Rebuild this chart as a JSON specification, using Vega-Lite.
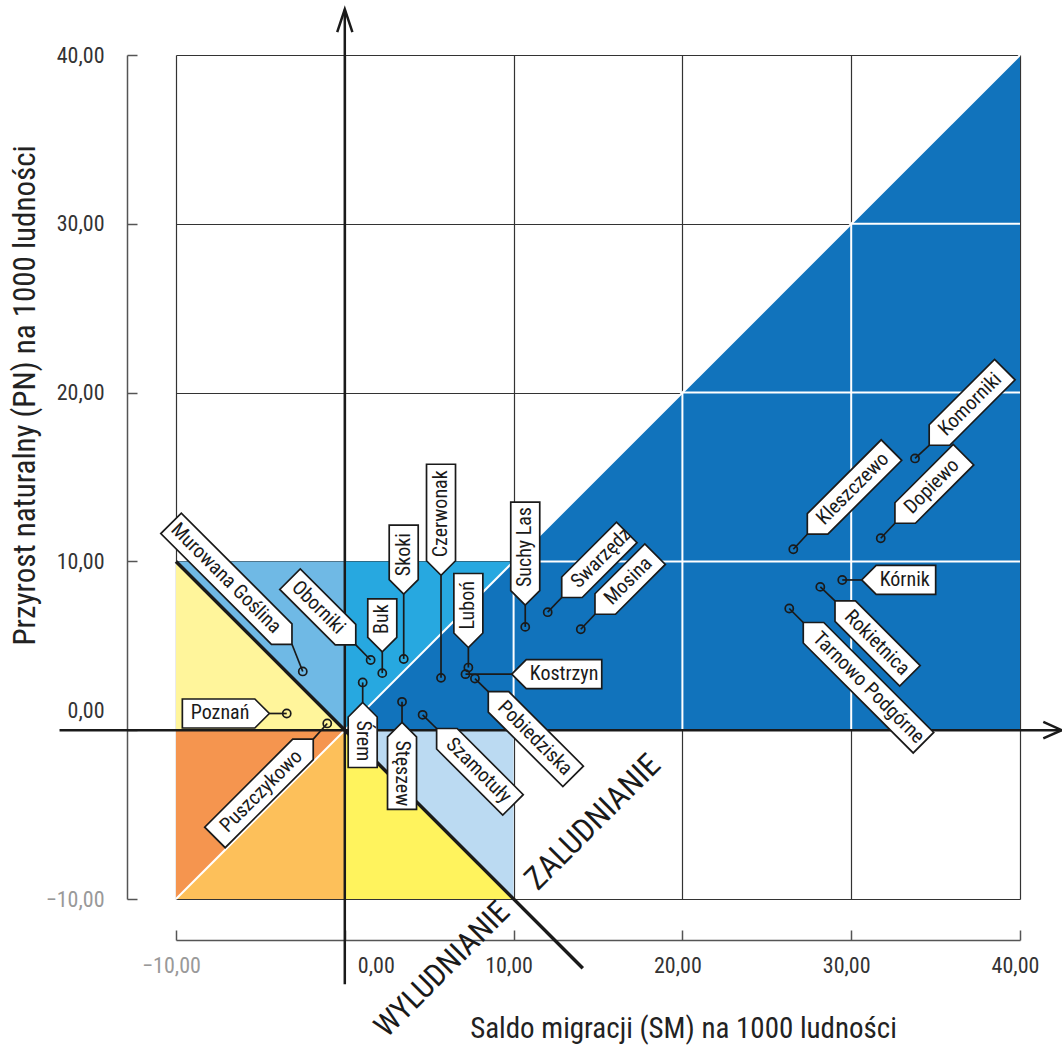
{
  "$schema": "https://vega.github.io/schema/vega-lite/v6.json",
  "width": 844,
  "height": 844,
  "autosize": "none",
  "padding": {"left": 176, "top": 55, "right": 42, "bottom": 149},
  "background": "white",
  "config": {
    "view": {"stroke": null},
    "font": "Roboto Condensed, Liberation Sans Narrow, DejaVu Sans Condensed, Roboto, sans-serif",
    "axis": {
      "labelFont": "Roboto Condensed, Liberation Sans Narrow, DejaVu Sans Condensed, Roboto, sans-serif",
      "titleFont": "Roboto Condensed, Liberation Sans Narrow, DejaVu Sans Condensed, Roboto, sans-serif",
      "labelFontSize": 22,
      "titleFontWeight": "normal",
      "titleColor": "#222",
      "gridColor": "#333",
      "gridWidth": 1.2,
      "domainColor": "#555",
      "domainWidth": 1.5,
      "tickColor": "#555",
      "tickWidth": 1.5,
      "tickSize": -10,
      "labelFlush": false,
      "labelOverlap": false
    }
  },
  "datasets": {
    "regions": [
      {"r": "dark", "x": 0, "y": 0, "y2": 0},
      {"r": "dark", "x": 40, "y": 40, "y2": 0},
      {"r": "lightblue", "x": 0, "y": 10, "y2": 0},
      {"r": "lightblue", "x": 10, "y": 10, "y2": 10},
      {"r": "midblue", "x": -10, "y": 10, "y2": 10},
      {"r": "midblue", "x": 0, "y": 10, "y2": 0},
      {"r": "paleyellow", "x": -10, "y": 10, "y2": 0},
      {"r": "paleyellow", "x": 0, "y": 0, "y2": 0},
      {"r": "orange", "x": -10, "y": 0, "y2": -10},
      {"r": "orange", "x": 0, "y": 0, "y2": 0},
      {"r": "lightorange", "x": -10, "y": -10, "y2": -10},
      {"r": "lightorange", "x": 0, "y": 0, "y2": -10},
      {"r": "yellow", "x": 0, "y": 0, "y2": -10},
      {"r": "yellow", "x": 10, "y": -10, "y2": -10},
      {"r": "paleblue", "x": 0, "y": 0, "y2": 0},
      {"r": "paleblue", "x": 10, "y": 0, "y2": -10}
    ],
    "wgrid": [
      {"x": 10, "y": 0, "x2": 10, "y2": 10},
      {"x": 20, "y": 0, "x2": 20, "y2": 20},
      {"x": 30, "y": 0, "x2": 30, "y2": 30},
      {"x": 10, "y": 10, "x2": 40, "y2": 10},
      {"x": 20, "y": 20, "x2": 40, "y2": 20},
      {"x": 30, "y": 30, "x2": 40, "y2": 30}
    ],
    "arrows": [
      {"a": "x", "x": 41.38, "y": 0.49, "o": 1},
      {"a": "x", "x": 42.47, "y": 0, "o": 2},
      {"a": "x", "x": 41.38, "y": -0.49, "o": 3},
      {"a": "y", "x": -0.45, "y": 41.35, "o": 1},
      {"a": "y", "x": 0, "y": 42.71, "o": 2},
      {"a": "y", "x": 0.45, "y": 41.35, "o": 3}
    ],
    "pts": [
      {"name": "Poznań", "x": -3.44, "y": 0.99, "lx": -4.47, "ly": 0.99, "dir": "w"},
      {"name": "Murowana Goślina", "x": -2.49, "y": 3.48, "lx": -3.13, "ly": 5.09, "dir": "nw"},
      {"name": "Oborniki", "x": 1.53, "y": 4.16, "lx": 0.65, "ly": 5.05, "dir": "nw"},
      {"name": "Buk", "x": 2.22, "y": 3.38, "lx": 2.22, "ly": 4.64, "dir": "n"},
      {"name": "Skoki", "x": 3.49, "y": 4.22, "lx": 3.49, "ly": 8.06, "dir": "n"},
      {"name": "Czerwonak", "x": 5.7, "y": 3.1, "lx": 5.7, "ly": 9.18, "dir": "n"},
      {"name": "Luboń", "x": 7.32, "y": 3.71, "lx": 7.32, "ly": 4.9, "dir": "n"},
      {"name": "Kostrzyn", "x": 7.15, "y": 3.32, "lx": 9.89, "ly": 3.32, "dir": "e"},
      {"name": "Pobiedziska", "x": 7.71, "y": 3.06, "lx": 8.5, "ly": 2.29, "dir": "se"},
      {"name": "Suchy Las", "x": 10.69, "y": 6.12, "lx": 10.69, "ly": 7.41, "dir": "n"},
      {"name": "Swarzędz", "x": 12.02, "y": 6.99, "lx": 12.85, "ly": 7.86, "dir": "ne"},
      {"name": "Mosina", "x": 13.98, "y": 5.98, "lx": 14.82, "ly": 6.87, "dir": "ne"},
      {"name": "Śrem", "x": 1.06, "y": 2.83, "lx": 1.06, "ly": 1.64, "dir": "s"},
      {"name": "Stęszew", "x": 3.39, "y": 1.68, "lx": 3.39, "ly": 0.46, "dir": "s"},
      {"name": "Szamotuły", "x": 4.61, "y": 0.91, "lx": 5.44, "ly": 0.1, "dir": "se"},
      {"name": "Puszczykowo", "x": -1.04, "y": 0.4, "lx": -1.87, "ly": -0.53, "dir": "sw"},
      {"name": "Komorniki", "x": 33.78, "y": 16.1, "lx": 34.62, "ly": 16.88, "dir": "ne"},
      {"name": "Kleszczewo", "x": 26.57, "y": 10.72, "lx": 27.4, "ly": 11.61, "dir": "ne"},
      {"name": "Dopiewo", "x": 31.75, "y": 11.37, "lx": 32.59, "ly": 12.26, "dir": "ne"},
      {"name": "Kórnik", "x": 29.47, "y": 8.9, "lx": 30.62, "ly": 8.9, "dir": "e"},
      {"name": "Rokietnica", "x": 28.17, "y": 8.49, "lx": 29.04, "ly": 7.66, "dir": "se"},
      {"name": "Tarnowo Podgórne", "x": 26.33, "y": 7.21, "lx": 27.16, "ly": 6.38, "dir": "se"}
    ]
  },
  "layer": [
    {
      "data": {"name": "regions"},
      "mark": {"type": "area", "orient": "vertical", "interpolate": "linear"},
      "encoding": {
        "x": {
          "field": "x", "type": "quantitative",
          "scale": {"domain": [-10, 40], "nice": false, "zero": false},
          "axis": {
            "orient": "bottom", "offset": 41,
            "values": [-10, 0, 10, 20, 30, 40],
            "grid": true,
            "labelPadding": 25,
            "labelExpr": "replace(format(datum.value, '.2f'), '.', ',')",
            "labelColor": {"condition": {"test": "datum.value < 0", "value": "#999999"}, "value": "#333333"},
            "labelOffset": {"condition": {"test": "datum.value === 0", "value": 31}, "value": -5},
            "title": "Saldo migracji (SM) na 1000 ludności",
            "titleFontSize": 29,
            "titleX": 507, "titleY": 88, "titleBaseline": "middle", "titleAlign": "center"
          }
        },
        "y": {
          "field": "y", "type": "quantitative", "stack": null,
          "scale": {"domain": [-10, 40], "nice": false, "zero": false},
          "axis": {
            "orient": "left", "offset": 49,
            "values": [-10, 0, 10, 20, 30, 40],
            "grid": true,
            "labelPadding": 33,
            "labelExpr": "replace(format(datum.value, '.2f'), '.', ',')",
            "labelColor": {"condition": {"test": "datum.value < 0", "value": "#999999"}, "value": "#333333"},
            "labelOffset": {"condition": {"test": "datum.value === 0", "value": -20}, "value": 0},
            "title": "Przyrost naturalny (PN) na 1000 ludności",
            "titleFontSize": 31,
            "titleX": -102, "titleY": 340, "titleBaseline": "middle", "titleAlign": "center", "titleAngle": -90
          }
        },
        "y2": {"field": "y2"},
        "color": {
          "field": "r", "type": "nominal", "legend": null,
          "scale": {
            "domain": ["dark", "lightblue", "midblue", "paleyellow", "orange", "lightorange", "yellow", "paleblue"],
            "range": ["#1173bc", "#27a8e0", "#6fb9e5", "#fff59b", "#f5954f", "#fdc05a", "#fff35d", "#bbdaf2"]
          }
        }
      }
    },
    {
      "data": {"name": "wgrid"},
      "mark": {"type": "rule", "color": "white", "strokeWidth": 2},
      "encoding": {
        "x": {"field": "x", "type": "quantitative"},
        "y": {"field": "y", "type": "quantitative"},
        "x2": {"field": "x2"},
        "y2": {"field": "y2"}
      }
    },
    {
      "data": {"values": [{"x": -10, "y": -10, "x2": 40, "y2": 40}]},
      "mark": {"type": "rule", "color": "white", "strokeWidth": 2},
      "encoding": {
        "x": {"field": "x", "type": "quantitative"},
        "y": {"field": "y", "type": "quantitative"},
        "x2": {"field": "x2"},
        "y2": {"field": "y2"}
      }
    },
    {
      "data": {"values": [{"x": -10, "y": 10, "x2": 14.1, "y2": -14.1}]},
      "mark": {"type": "rule", "color": "#1a1a1a", "strokeWidth": 3.5},
      "encoding": {
        "x": {"field": "x", "type": "quantitative"},
        "y": {"field": "y", "type": "quantitative"},
        "x2": {"field": "x2"},
        "y2": {"field": "y2"}
      }
    },
    {
      "data": {"values": [{"x": -16.9, "y": 0, "x2": 42.45, "y2": 0}, {"x": 0, "y": -15.05, "x2": 0, "y2": 42.69}]},
      "mark": {"type": "rule", "color": "#1a1a1a", "strokeWidth": 2.5},
      "encoding": {
        "x": {"field": "x", "type": "quantitative"},
        "y": {"field": "y", "type": "quantitative"},
        "x2": {"field": "x2"},
        "y2": {"field": "y2"}
      }
    },
    {
      "data": {"name": "arrows"},
      "mark": {"type": "line", "color": "#1a1a1a", "strokeWidth": 2.5, "strokeJoin": "miter"},
      "encoding": {
        "x": {"field": "x", "type": "quantitative"},
        "y": {"field": "y", "type": "quantitative"},
        "detail": {"field": "a"},
        "order": {"field": "o", "type": "quantitative"}
      }
    },
    {
      "data": {"name": "pts"},
      "mark": {"type": "rule", "color": "#1a1a1a", "strokeWidth": 1.7},
      "encoding": {
        "x": {"field": "x", "type": "quantitative"},
        "y": {"field": "y", "type": "quantitative"},
        "x2": {"field": "lx"},
        "y2": {"field": "ly"}
      }
    },
    {
      "data": {"name": "pts"},
      "mark": {"type": "point", "filled": true, "fill": "white", "stroke": "#1a1a1a", "strokeWidth": 1.7, "size": 4, "opacity": 1, "fillOpacity": 1, "strokeOpacity": 1},
      "encoding": {
        "x": {"field": "lx", "type": "quantitative"},
        "y": {"field": "ly", "type": "quantitative"},
        "shape": {
          "field": "name", "type": "nominal", "legend": null,
          "scale": {
            "domain": ["Poznań", "Murowana Goślina", "Oborniki", "Buk", "Skoki", "Czerwonak", "Luboń", "Kostrzyn", "Pobiedziska", "Suchy Las", "Swarzędz", "Mosina", "Śrem", "Stęszew", "Szamotuły", "Puszczykowo", "Komorniki", "Kleszczewo", "Dopiewo", "Kórnik", "Rokietnica", "Tarnowo Podgórne"],
            "range": [
              "M0,0L14.5,-14.5L87,-14.5L87,14.5L14.5,14.5Z",
              "M0,0L14.5,-14.5L171,-14.5L171,14.5L14.5,14.5Z",
              "M0,0L14.5,-14.5L93,-14.5L93,14.5L14.5,14.5Z",
              "M0,0L14.5,-14.5L53,-14.5L53,14.5L14.5,14.5Z",
              "M0,0L14.5,-14.5L69,-14.5L69,14.5L14.5,14.5Z",
              "M0,0L14.5,-14.5L111,-14.5L111,14.5L14.5,14.5Z",
              "M0,0L14.5,-14.5L74,-14.5L74,14.5L14.5,14.5Z",
              "M0,0L14.5,-14.5L90,-14.5L90,14.5L14.5,14.5Z",
              "M0,0L14.5,-14.5L120,-14.5L120,14.5L14.5,14.5Z",
              "M0,0L14.5,-14.5L103,-14.5L103,14.5L14.5,14.5Z",
              "M0,0L14.5,-14.5L92,-14.5L92,14.5L14.5,14.5Z",
              "M0,0L14.5,-14.5L85,-14.5L85,14.5L14.5,14.5Z",
              "M0,0L14.5,-14.5L65,-14.5L65,14.5L14.5,14.5Z",
              "M0,0L14.5,-14.5L87,-14.5L87,14.5L14.5,14.5Z",
              "M0,0L14.5,-14.5L108,-14.5L108,14.5L14.5,14.5Z",
              "M0,0L14.5,-14.5L139,-14.5L139,14.5L14.5,14.5Z",
              "M0,0L14.5,-14.5L107,-14.5L107,14.5L14.5,14.5Z",
              "M0,0L14.5,-14.5L119,-14.5L119,14.5L14.5,14.5Z",
              "M0,0L14.5,-14.5L97,-14.5L97,14.5L14.5,14.5Z",
              "M0,0L14.5,-14.5L74,-14.5L74,14.5L14.5,14.5Z",
              "M0,0L14.5,-14.5L106,-14.5L106,14.5L14.5,14.5Z",
              "M0,0L14.5,-14.5L170,-14.5L170,14.5L14.5,14.5Z"
            ]
          }
        },
        "angle": {
          "field": "dir", "type": "nominal", "legend": null,
          "scale": {"type": "ordinal", "domain": ["e", "se", "s", "sw", "w", "nw", "n", "ne"], "range": [0, 45, 90, 135, 180, 225, 270, 315]}
        }
      }
    },
    {
      "data": {"name": "pts"},
      "transform": [{"filter": "indexof(['e','se','s','n','ne'], datum.dir) >= 0"}],
      "mark": {"type": "text", "align": "left", "baseline": "middle", "dx": 18, "fontSize": 20, "color": "#1a1a1a"},
      "encoding": {
        "x": {"field": "lx", "type": "quantitative"},
        "y": {"field": "ly", "type": "quantitative"},
        "text": {"field": "name"},
        "angle": {
          "field": "dir", "type": "nominal", "legend": null,
          "scale": {"type": "ordinal", "domain": ["e", "se", "s", "n", "ne"], "range": [0, 45, 90, 270, 315]}
        }
      }
    },
    {
      "data": {"name": "pts"},
      "transform": [{"filter": "indexof(['w','nw','sw'], datum.dir) >= 0"}],
      "mark": {"type": "text", "align": "right", "baseline": "middle", "dx": -20, "fontSize": 20, "color": "#1a1a1a"},
      "encoding": {
        "x": {"field": "lx", "type": "quantitative"},
        "y": {"field": "ly", "type": "quantitative"},
        "text": {"field": "name"},
        "angle": {
          "field": "dir", "type": "nominal", "legend": null,
          "scale": {"type": "ordinal", "domain": ["w", "nw", "sw"], "range": [0, 45, 315]}
        }
      }
    },
    {
      "data": {"name": "pts"},
      "mark": {"type": "point", "shape": "circle", "size": 66, "filled": false, "stroke": "#1a1a1a", "strokeWidth": 1.7, "opacity": 1},
      "encoding": {
        "x": {"field": "x", "type": "quantitative"},
        "y": {"field": "y", "type": "quantitative"}
      }
    },
    {
      "data": {"values": [{"t": "ZALUDNIANIE", "x": 14.7, "y": -5.45, "s": "a"}]},
      "mark": {"type": "text", "align": "center", "baseline": "middle", "angle": 315, "fontSize": 32, "color": "#1a1a1a"},
      "encoding": {
        "x": {"field": "x", "type": "quantitative"},
        "y": {"field": "y", "type": "quantitative"},
        "text": {"field": "t"}
      }
    },
    {
      "data": {"values": [{"t": "WYLUDNIANIE", "x": 5.8, "y": -14.2}]},
      "mark": {"type": "text", "align": "center", "baseline": "middle", "angle": 315, "fontSize": 31, "color": "#1a1a1a"},
      "encoding": {
        "x": {"field": "x", "type": "quantitative"},
        "y": {"field": "y", "type": "quantitative"},
        "text": {"field": "t"}
      }
    }
  ],
  "resolve": {"scale": {"angle": "independent", "shape": "independent"}}
}
